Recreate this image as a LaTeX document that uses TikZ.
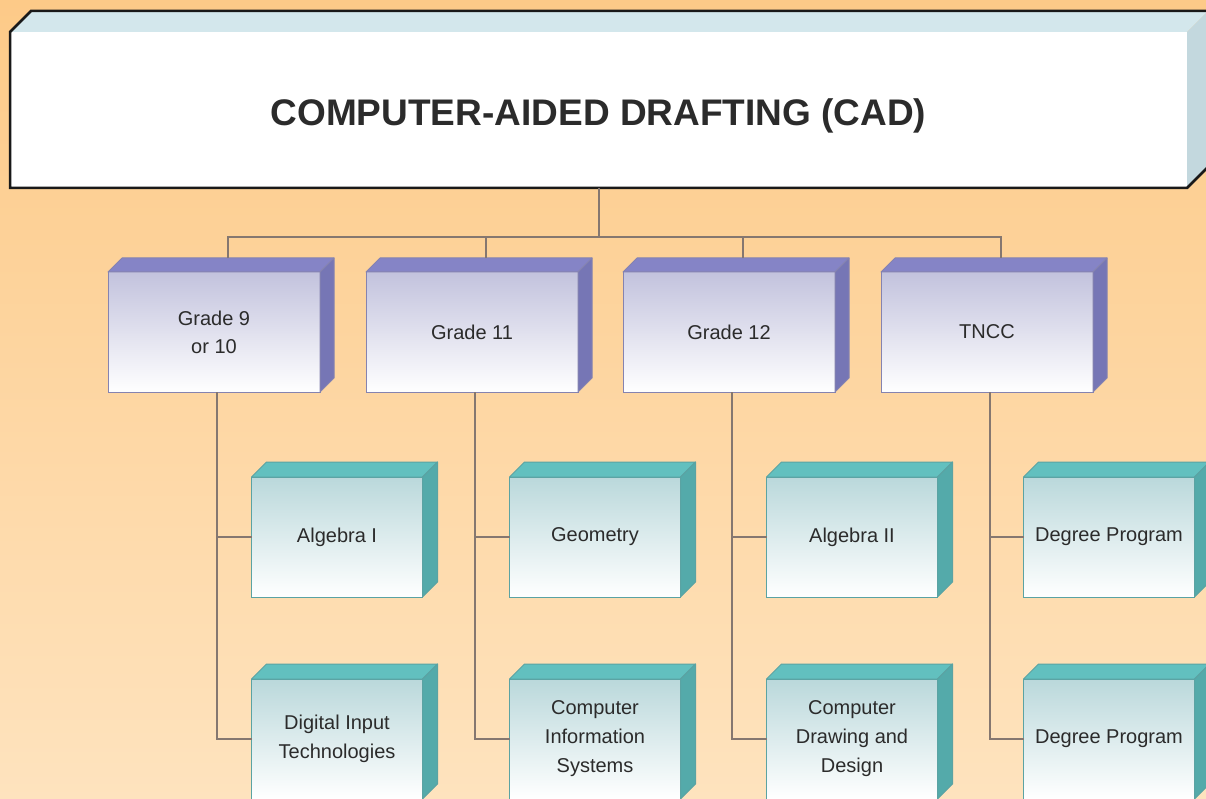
\documentclass[tikz,border=0pt]{standalone}
\usepackage{fontspec}
\setmainfont{Liberation Sans}
\usepackage{xcolor}

\definecolor{bgtop}{HTML}{FDCA88}
\definecolor{bgbot}{HTML}{FEE3BE}
\definecolor{wirec}{HTML}{857770}
\definecolor{gradetop}{HTML}{8584C6}
\definecolor{gradeside}{HTML}{7676B5}
\definecolor{gradefront}{HTML}{C2C2DD}
\definecolor{gradeline}{HTML}{8583B0}
\definecolor{coursetop}{HTML}{62C0BF}
\definecolor{courseside}{HTML}{54AAAA}
\definecolor{coursefront}{HTML}{BAD8DB}
\definecolor{courseline}{HTML}{5BA3A3}
\definecolor{captop}{HTML}{D3E7EC}
\definecolor{capside}{HTML}{C3D8DE}
\definecolor{txt}{HTML}{2B2B2B}

\tikzset{
  wire/.style={draw=wirec, line width=2pt},
  grade/.style={shape=rectangle, outer sep=0pt, minimum width=212pt, minimum height=120pt,
    top color=gradefront, bottom color=white, draw=gradeline, line width=1pt,
    align=center, text=txt, font=\fontsize{20}{28}\selectfont},
  course/.style={grade, minimum width=171pt, top color=coursefront, draw=courseline,
    font=\fontsize{20}{29}\selectfont},
}

% top and right faces of a box node
\newcommand{\boxsides}[5]{%
  \filldraw[fill=#3, draw=#5, line width=1pt, line join=round] (#1.north west) -- ++(#2,-#2)
    -- ([shift={(#2,-#2)}]#1.north east) -- (#1.north east) -- cycle;
  \filldraw[fill=#4, draw=#5, line width=1pt, line join=round] (#1.north east) -- ++(#2,-#2)
    -- ([shift={(#2,-#2)}]#1.south east) -- (#1.south east) -- cycle;}

\begin{document}
\begin{tikzpicture}[x=1pt,y=-1pt]
\useasboundingbox (0,0) rectangle (1206,799);
\shade[top color=bgtop, bottom color=bgbot] (0,0) rectangle (1206,799);

% title block
\node[shape=rectangle, outer sep=0pt, minimum width=1177pt, minimum height=156pt, fill=white,
  text=txt, font=\bfseries\fontsize{37}{40}\selectfont, text height=34pt, text depth=2pt]
  (cad) at (598.5,110) {COMPUTER-AIDED DRAFTING (CAD)};
\fill[captop] (cad.north west) -- ++(21,-21) -- ([shift={(21,-21)}]cad.north east) -- (cad.north east) -- cycle;
\fill[capside] (cad.north east) -- ++(21,-21) -- ([shift={(21,-21)}]cad.south east) -- (cad.south east) -- cycle;
\draw[line width=2.5pt, line join=miter, color=black!90] (cad.north west) -- ++(21,-21)
  -- ([shift={(21,-21)}]cad.north east) -- ([shift={(21,-21)}]cad.south east)
  -- (cad.south east) -- (cad.south west) -- cycle;

% grades
\foreach \i/\x/\lbl in {1/214/{Grade 9\\or 10}, 2/472/{Grade 11}, 3/729/{Grade 12}, 4/987/TNCC} {
  \node[grade] (g\i) at (\x,332) {\lbl};
  \boxsides{g\i}{14}{gradetop}{gradeside}{gradeline}
  \coordinate (t\i) at ([shift={(14,-14)}]g\i.north);
}

% courses
\foreach \i/\x/\rowa/\rowb in {1/337/{Algebra I}/{Digital Input\\Technologies},
    2/595/Geometry/{Computer\\Information\\Systems},
    3/852/{Algebra II}/{Computer\\Drawing and\\Design},
    4/1109/{Degree Program}/{Degree Program}} {
  \node[course] (a\i) at (\x,537) {\rowa};
  \boxsides{a\i}{15}{coursetop}{courseside}{courseline}
  \node[course] (b\i) at (\x,739) {\rowb};
  \boxsides{b\i}{15}{coursetop}{courseside}{courseline}
}

% connectors
\draw[wire] (cad.south) -- ++(0,49) coordinate (bus);
\draw[wire] (t1) |- (bus) -| (t4);
\draw[wire] (t2 |- bus) -- (t2);
\draw[wire] (t3 |- bus) -- (t3);
\foreach \i in {1,...,4} {
  \draw[wire] ([xshift=3pt]g\i.south) |- (b\i.west);
  \draw[wire] ([xshift=3pt]g\i.south |- a\i.west) -- (a\i.west);
}
\end{tikzpicture}
\end{document}
